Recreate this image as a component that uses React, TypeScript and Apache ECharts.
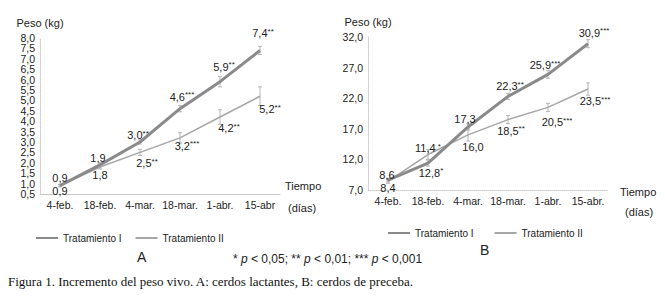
import React, { useEffect, useRef } from "react";
import * as echarts from "echarts";

const categoriesA = ["4-feb.", "18-feb.", "4-mar.", "18-mar.", "1-abr.", "15-abr"];
const categoriesB = ["4-feb.", "18-feb.", "4-mar.", "18-mar.", "1-abr.", "15-abr."];
const seriesNames = ["Tratamiento I", "Tratamiento II"];

const ticksA = [0.5, 1.0, 1.5, 2.0, 2.5, 3.0, 3.5, 4.0, 4.5, 5.0, 5.5, 6.0, 6.5, 7.0, 7.5, 8.0];
const ticksB = [7, 12, 17, 22, 27, 32];

const weightA1 = [0.9, 1.9, 3.0, 4.6, 5.9, 7.4];
const weightA2 = [0.9, 1.8, 2.5, 3.2, 4.2, 5.2];
const errorA1 = [0.05, 0.1, 0.1, 0.15, 0.25, 0.2];
const errorA2 = [0.05, 0.1, 0.15, 0.25, 0.35, 0.45];
const signifA1 = ["", "", "**", "***", "**", "**"];
const signifA2 = ["", "", "**", "***", "**", "**"];

const weightB1 = [8.6, 11.4, 17.3, 22.3, 25.9, 30.9];
const weightB2 = [8.4, 12.8, 16.0, 18.5, 20.5, 23.5];
const errorB1 = [0.3, 0.5, 0.5, 0.5, 0.65, 0.65];
const errorB2 = [0.3, 0.8, 1.0, 0.65, 0.65, 1.0];
const signifB1 = ["", " *", "", "**", "***", "***"];
const signifB2 = ["", "*", "", "**", "***", "***"];

// label placement (style)
const offA1 = [[0, -8], [-2, -7], [-2, -7], [2, -12], [4, -15], [3, -17]];
const offA2 = [[0, 5], [0, 8], [7, 11], [7, 8], [9, 11], [10, 13]];
const offB1 = [[-1, -5], [0, -15], [-3, -8], [2, -10], [-3, -9], [6, -11]];
const offB2 = [[0, 7], [3, 18], [5, 12], [3, 11], [9, 15], [7, 12]];

const FONT = "Liberation Sans, Arial, sans-serif";
const TEXT = "#222";
const C1 = "#8a8a8a";
const C2 = "#a6a6a6";

const fmtNum = (v: number) => v.toFixed(1).replace(".", ",");

function lineSeries(name: string, idx: number, values: number[], sig: string[], offs: number[][], color: string, width: number) {
  return {
    name,
    type: "line",
    xAxisIndex: idx,
    yAxisIndex: idx,
    z: 3,
    symbol: "circle",
    symbolSize: 0,
    itemStyle: { color: "transparent", borderWidth: 0 },
    lineStyle: { color, width },
    data: values.map((v, i) => ({
      value: v,
      label: {
        show: true,
        position: "inside",
        offset: offs[i],
        formatter: `{n|${fmtNum(v)}}` + (sig[i] ? `{s|${sig[i]}}` : ""),
      },
    })),
    label: {
      show: true,
      rich: {
        n: { fontSize: 11, color: TEXT, fontFamily: FONT, lineHeight: 12 },
        s: { fontSize: 8, color: TEXT, fontFamily: FONT, verticalAlign: "top", lineHeight: 12 },
      },
    },
  };
}

function errorSeries(idx: number, values: number[], errors: number[]) {
  return {
    type: "custom",
    xAxisIndex: idx,
    yAxisIndex: idx,
    z: 1,
    silent: true,
    encode: { x: 0, y: [1, 2] },
    data: values.map((v, i) => [i, v - errors[i], v + errors[i]]),
    renderItem: (_p: any, api: any) => {
      const lo = api.coord([api.value(0), api.value(1)]);
      const hi = api.coord([api.value(0), api.value(2)]);
      const w = 2;
      const style = { stroke: "#b5b5b5", lineWidth: 1 };
      return {
        type: "group",
        children: [
          { type: "line", shape: { x1: lo[0], y1: lo[1], x2: hi[0], y2: hi[1] }, style },
          { type: "line", shape: { x1: lo[0] - w, y1: lo[1], x2: lo[0] + w, y2: lo[1] }, style },
          { type: "line", shape: { x1: hi[0] - w, y1: hi[1], x2: hi[0] + w, y2: hi[1] }, style },
        ],
      };
    },
  };
}

function catAxis(idx: number, data: string[], dotted: boolean) {
  return {
    type: "category",
    gridIndex: idx,
    data,
    boundaryGap: true,
    axisLine: { show: true, lineStyle: { color: "#c8c8c8", width: 1, type: dotted ? "dotted" : "solid" } },
    axisTick: { show: false },
    axisLabel: { interval: 0, fontSize: 10.5, color: TEXT, fontFamily: FONT, margin: 5 },
    splitLine: { show: false },
  };
}

function valAxis(idx: number, min: number, max: number, ticks: number[], main: boolean) {
  return {
    type: "value",
    gridIndex: idx,
    position: "left",
    offset: 0,
    min,
    max,
    name: main ? "Peso (kg)" : "",
    nameLocation: "end",
    nameGap: 10,
    nameTextStyle: { fontSize: 11, color: TEXT, fontFamily: FONT },
    axisLine: { show: main, lineStyle: { color: "#cfc6c9", width: 1, type: "dotted" } },
    axisTick: { show: false },
    splitLine: { show: false },
    axisLabel: {
      customValues: ticks,
      showMinLabel: true,
      showMaxLabel: true,
      formatter: (v: number) => fmtNum(v),
      fontSize: 10.5,
      color: TEXT,
      fontFamily: FONT,
      margin: 5,
    },
  };
}

function legend(left: number, top: number, gap: number) {
  return {
    left,
    top,
    orient: "horizontal",
    itemWidth: 22,
    itemHeight: 10,
    itemGap: gap,
    padding: 0,
    selectedMode: false,
    data: seriesNames,
    textStyle: { fontSize: 10, color: TEXT, fontFamily: FONT },
  };
}

export default function App() {
  const ref = useRef<HTMLDivElement>(null);
  useEffect(() => {
    const chart = echarts.init(ref.current!, null, { renderer: "svg" });
    const ticksAEven = ticksA.filter((_, i) => i % 2 === 1);
    const ticksAOdd = ticksA.filter((_, i) => i % 2 === 0);
    chart.setOption({
      animation: false,
      backgroundColor: "#fff",
      textStyle: { fontFamily: FONT },
      grid: [
        { left: 40, top: 38, width: 240, height: 156 },
        { left: 368, top: 37, width: 240, height: 153 },
      ],
      xAxis: [catAxis(0, categoriesA, false), catAxis(1, categoriesB, true)],
      yAxis: [
        valAxis(0, 0.5, 8, ticksAEven, true),
        valAxis(1, 7, 32, ticksB, true),
        valAxis(0, 0.5, 8, ticksAOdd, false),
      ],
      legend: [legend(35, 233, 13), legend(387, 228, 20)],
      series: [
        errorSeries(0, weightA1, errorA1),
        errorSeries(0, weightA2, errorA2),
        lineSeries(seriesNames[1], 0, weightA2, signifA2, offA2, C2, 1.5),
        lineSeries(seriesNames[0], 0, weightA1, signifA1, offA1, C1, 3),
        errorSeries(1, weightB1, errorB1),
        errorSeries(1, weightB2, errorB2),
        lineSeries(seriesNames[1], 1, weightB2, signifB2, offB2, C2, 1.5),
        lineSeries(seriesNames[0], 1, weightB1, signifB1, offB1, C1, 3),
      ],
      graphic: [
        { type: "text", left: 285, top: 180, style: { text: "Tiempo", fontSize: 11, fill: TEXT, fontFamily: FONT } },
        { type: "text", left: 288, top: 202, style: { text: "(días)", fontSize: 11, fill: TEXT, fontFamily: FONT } },
        { type: "text", left: 620, top: 186, style: { text: "Tiempo", fontSize: 11, fill: TEXT, fontFamily: FONT } },
        { type: "text", left: 625, top: 206, style: { text: "(días)", fontSize: 11, fill: TEXT, fontFamily: FONT } },
        { type: "text", left: 137, top: 250, style: { text: "A", fontSize: 14, fill: TEXT, fontFamily: FONT } },
        { type: "text", left: 480, top: 243, style: { text: "B", fontSize: 14, fill: TEXT, fontFamily: FONT } },
        {
          type: "text",
          left: 233,
          top: 253,
          style: {
            text: "{n|* }{i|p}{n| < 0,05; ** }{i|p}{n| < 0,01; *** }{i|p}{n| < 0,001}",
            rich: {
              n: { fontSize: 12, fill: TEXT, fontFamily: FONT },
              i: { fontSize: 12, fill: TEXT, fontFamily: FONT, fontStyle: "italic" },
            },
          },
        },
        {
          type: "text",
          left: 8,
          top: 275,
          style: {
            text: "Figura 1. Incremento del peso vivo. A: cerdos lactantes, B: cerdos de preceba.",
            fontSize: 13,
            fill: "#111",
            fontFamily: "Liberation Serif, Times New Roman, serif",
          },
        },
      ],
    });
    return () => chart.dispose();
  }, []);
  return (
    <div
      ref={ref}
      style={{ position: "fixed", left: 0, top: 0, width: 665, height: 302, background: "#fff" }}
    />
  );
}
